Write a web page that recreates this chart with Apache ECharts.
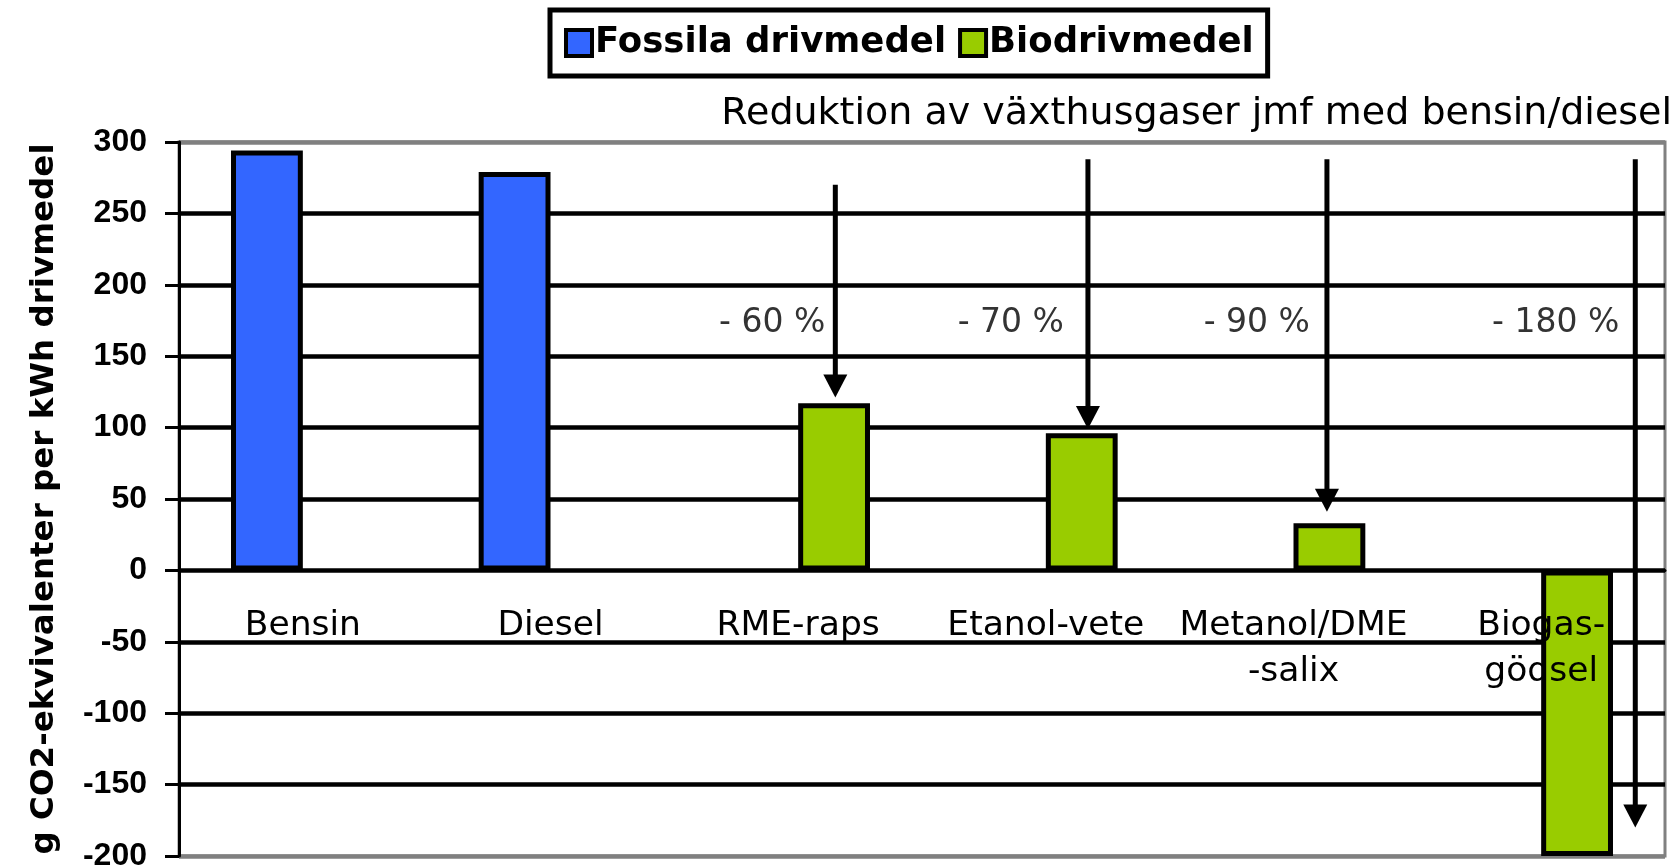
<!DOCTYPE html>
<html><head><meta charset="utf-8">
<script src="https://cdn.jsdelivr.net/npm/echarts@6/dist/echarts.min.js"></script>
<style>html,body{margin:0;padding:0;background:#fff}#c{width:1679px;height:868px}</style>
</head><body><div id="c"></div>
<script>
// ---- data ----
const categories = ['Bensin', 'Diesel', 'RME-raps', 'Etanol-vete', 'Metanol/DME\n-salix', 'Biogas-\ngödsel'];
const seriesNames = ['Fossila drivmedel', 'Biodrivmedel'];
const fossilValues = [294, 279, '-', '-', '-', '-'];
const bioValues = ['-', '-', 117, 96, 33, -200];
const arrowCategory = [2, 3, 4, 5];
const arrowStart = [270, 288, 288, 288];
const arrowEnd = [121, 99, 41, -180];
const reductionLabels = ['- 60 %', '- 70 %', '- 90 %', '- 180 %'];
const noteText = 'Reduktion av växthusgaser jmf med bensin/diesel';
const yAxisName = 'g CO2-ekvivalenter per kWh drivmedel';

// ---- layout (not data) ----
const arrowOffset = [0.15, 0.17, 0.135, 0.38];
const labelGap = [10, 24, 17, 16];
const labelLevel = 173;
const catLabelMargin = 33;
const FONT = 'DejaVu Sans';
const ARIAL = "'Liberation Sans', Arial, sans-serif";

const chart = echarts.init(document.getElementById('c'));
chart.setOption({
  animation: false,
  backgroundColor: '#fff',
  title: {
    text: noteText, right: 2, top: 90,
    textStyle: { fontFamily: FONT, fontSize: 38, fontWeight: 'normal', color: '#000' }
  },
  legend: {
    data: seriesNames, left: 550, top: 10,
    padding: [15, 14, 15, 14], borderColor: '#000', borderWidth: 5,
    icon: 'rect', itemWidth: 26, itemHeight: 26, itemGap: 12,
    textStyle: { fontFamily: FONT, fontSize: 35.5, fontWeight: 'bold', color: '#000', padding: [0, 0, 0, -2] },
    itemStyle: { borderColor: '#000', borderWidth: 4 }
  },
  grid: { left: 179, right: 14, top: 142, bottom: 12, show: true, borderColor: '#808080', borderWidth: 3, containLabel: false, outerBoundsMode: 'none' },
  xAxis: {
    type: 'category', data: categories,
    axisLine: { onZero: true, lineStyle: { color: '#000', width: 3 } },
    axisTick: { show: false },
    axisLabel: { show: false },
    splitLine: { show: false }
  },
  yAxis: {
    type: 'value', min: -200, max: 300, interval: 50,
    name: yAxisName, nameLocation: 'middle', nameGap: 118,
    nameTextStyle: { fontFamily: FONT, fontSize: 32.5, fontWeight: 'bold', color: '#000' },
    axisLine: { show: true, lineStyle: { color: '#000', width: 3 } },
    axisTick: { show: true, length: 14, lineStyle: { color: '#000', width: 3 } },
    axisLabel: { margin: 32, fontFamily: ARIAL, fontSize: 32, fontWeight: 'bold', color: '#000' },
    splitLine: { show: true, lineStyle: { width: 4.5, color: ['#808080', '#000', '#000', '#000', '#000', '#000', '#000', '#000', '#000', '#000', '#808080'] } }
  },
  series: [
    {
      name: seriesNames[0], type: 'bar', data: fossilValues,
      barGap: '0%', barCategoryGap: '42%',
      itemStyle: { color: '#3366FF', borderColor: '#000', borderWidth: 5 }
    },
    {
      name: seriesNames[1], type: 'bar', data: bioValues,
      barGap: '0%', barCategoryGap: '42%',
      itemStyle: { color: '#99CC00', borderColor: '#000', borderWidth: 5 }
    },
    {
      // category labels placed at the zero line
      type: 'custom', z: 4, silent: true,
      data: categories.map((c, i) => [i, 0]),
      encode: { x: 0, y: 1 },
      renderItem: function (params, api) {
        const p = api.coord([api.value(0), api.value(1)]);
        return {
          type: 'text',
          style: {
            text: categories[params.dataIndex], x: p[0], y: p[1] + catLabelMargin,
            align: 'center', verticalAlign: 'top', lineHeight: 46,
            fontFamily: FONT, fontSize: 34.5, fill: '#000'
          }
        };
      }
    },
    {
      type: 'custom', z: 5, silent: true,
      data: arrowCategory.map((c, i) => [c, arrowStart[i], arrowEnd[i]]),
      encode: { x: 0, y: [1, 2] },
      renderItem: function (params, api) {
        const i = params.dataIndex;
        const band = api.size([1, 0])[0];
        const p0 = api.coord([api.value(0), api.value(1)]);
        const p1 = api.coord([api.value(0), api.value(2)]);
        const x = p0[0] + arrowOffset[i] * band;
        const head = 23, hw = 12;
        const ly = api.coord([api.value(0), labelLevel])[1];
        return {
          type: 'group', children: [
            { type: 'line', shape: { x1: x, y1: p0[1], x2: x, y2: p1[1] - head + 2 }, style: { stroke: '#000', lineWidth: 5 } },
            { type: 'polygon', shape: { points: [[x - hw, p1[1] - head], [x + hw, p1[1] - head], [x, p1[1]]] }, style: { fill: '#000' } },
            { type: 'text', style: { text: reductionLabels[i], x: x - labelGap[i], y: ly, align: 'right', verticalAlign: 'middle', fontFamily: FONT, fontSize: 33, fill: '#333' } }
          ]
        };
      }
    }
  ]
});
</script>
</body></html>
